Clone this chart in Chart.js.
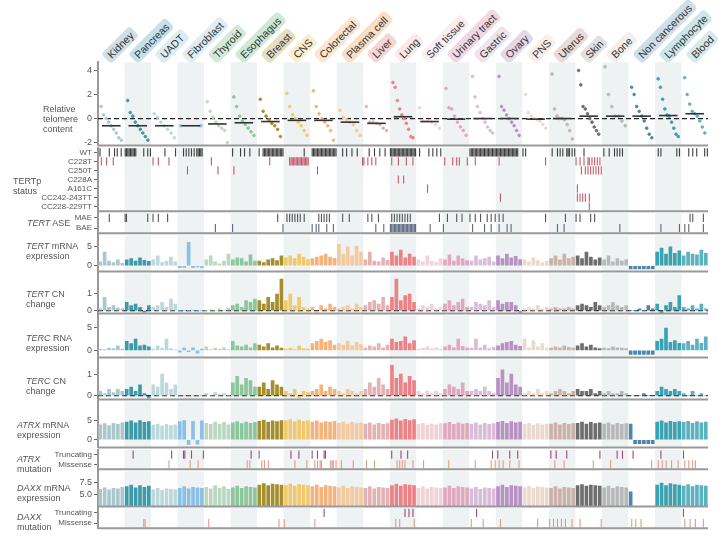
<!DOCTYPE html>
<html><head><meta charset="utf-8">
<script src="https://cdn.jsdelivr.net/npm/chart.js@4.4.1/dist/chart.umd.min.js"></script>
<style>
body{margin:0;background:#fff;font-family:"Liberation Sans",Arial,sans-serif;}
#wrap{position:relative;width:718px;height:540px;overflow:hidden;}
canvas{position:absolute;left:0;}
.lab{position:absolute;font-size:9px;color:#555;line-height:10px;}
.cat{position:absolute;font-size:10.5px;color:#333;white-space:nowrap;transform:rotate(-45deg);transform-origin:0 100%;padding:1px 4px;border-radius:4px;}
</style></head><body><div id="wrap"></div>
<script>
const groups = ["Kidney","Pancreas","UADT","Fibroblast","Thyroid","Esophagus","Breast","CNS","Colorectal","Plasma cell","Liver","Lung","Soft tissue","Urinary tract","Gastric","Ovary","PNS","Uterus","Skin","Bone","Non cancerous","Lymphocyte","Blood"];
const labelBg = ["#cddfe9","#c6dfe8","#dcedf1","#deedf7","#d4e9d6","#d0e9d4","#e6dfbf","#faeecf","#fce5d1","#fadfc6","#f5d5d5","#fbe9ea","#fbeef1","#f1d7e1","#eee3ee","#e3d7e9","#fbefe8","#e9dbd7","#e1e1e1","#f0f0f0","#cddfe9","#cbe7e9","#d6ebee"];
const barColor = ["#a9c7cc","#3d9aa8","#bcd8dc","#8cbfe6","#bcd7c0","#8cc69c","#a58e2e","#f0c96e","#f4b27c","#f3caa0","#e4b2b2","#ec8186","#f0d2d8","#e0a8bd","#d8bcd8","#b791c2","#ecd9ce","#c9b2aa","#6e6e6e","#b8b8b8","#4a86b0","#3aa2b0","#5cb2c0"];

const telomere = [
  [1.0,0.3,0,-0.3,-0.6,-0.9,-1.2,-1.6,-1.8],
  [1.5,0.5,0.2,-0.3,-0.6,-0.9,-1.2,-1.5,-1.8],
  [0.4,0.1,-0.3,-0.6,-0.9,-1.2,-1.6],
  [-0.6,-0.6],
  [1.4,0.6,0.1,-0.3,-0.6,-0.8,-1.0,-2.0],
  [1.8,1.0,0.2,-0.2,-0.5,-0.8,-1.1,-1.4],
  [1.6,0.6,0.2,-0.1,-0.4,-0.6,-0.9,-1.5],
  [2.1,1.0,0.3,0,-0.3,-0.6,-1.0,-1.4],
  [2.3,1.0,0.4,0,-0.3,-0.6,-1.0,-1.8],
  [0.7,0.1,-0.1,-0.3,-0.5,-1.0,-1.4],
  [1.0,-0.3,-0.3,-0.4,-0.5,-0.8,-1.0],
  [3.0,2.6,1.5,0.8,0.3,0,-0.4,-0.9,-1.5,-1.6],
  [0.9,-0.2,-0.2,-0.3,-0.5,-0.8],
  [2.5,0.9,0.8,0.2,-0.3,-0.7,-1.0,-1.4],
  [3.5,1.8,1.0,0.5,0,-0.3,-0.7,-1.0,-1.2],
  [3.5,1.0,0.7,0.3,0,-0.3,-0.6,-1.0,-1.4],
  [2.0,0.5,0.2,0,-0.1,-0.2,-0.5,-0.8],
  [3.7,0.8,0.2,0,0,-0.1,-0.5,-1.0,-1.7],
  [4.0,2.8,1.0,0.8,0.4,0,-0.3,-0.7,-1.0,-1.3],
  [4.3,2.0,1.0,0.2,0.2,-0.2,-0.6],
  [2.6,2.0,1.0,0.6,0.2,-0.2,-0.8,-1.3,-1.6],
  [3.3,2.6,1.6,0.8,0.3,0.2,-0.3,-0.8,-1.3,-1.5],
  [3.4,2.0,1.2,0.6,0.4,0.2,-0.2,-0.7,-1.2]
];

// mutation / status rows: slot numbers (0-19) per group
const tertpRows = ["WT","C228T","C250T","C228A","A161C","CC242-243TT","CC228-229TT"];
const tertWT = [[1,8,12,14,17],[0,1,2,3,4,5,6,7,8,14,17,19],[10,18],[4,6,8,10,12,14,15,16,17,18],[],[1,7,10,14],[1,4,5,6,7,8,9,10,11,12,13,14,15,16,17,18,19],[15],[1,2,3,4,5,6,7,8,9,10,11,12,13,14,15,16,17,18,19],[4,7,11,15],[4,8,12,16],[0,1,2,3,4,5,6,7,8,9,10,11,12,13,14,15,16,17,18,19],[2,9,12,15,18],[],[0,1,2,3,4,5,6,7,8,9,10,11,12,13,14,15,16,17,18,19],[0,1,2,3,4,5,6,7,8,9,10,11,12,13,14,15,16],[0,2],[2,6,8,10,13,14,15,17,19],[6],[1,5,9,11,13,15],[],[2,4,16,18],[5,8,11,17,19]];
const tertC228T = [[2,6,11],[],[1,5,13],[],[5],[],[9],[4,5,6,7,8,9,10,11,12,13,14,15,16,17,18],[],[19],[0,3,6,9],[1,6,12,17],[],[1,7,10,12,18],[4],[2],[17],[],[0,3,6,9,10,12,14,16,18],[],[],[],[]];
const tertC250T = [[],[],[],[7],[10],[2],[],[],[5],[],[],[],[],[],[],[],[],[],[4,7,9,11,13,15,17,19],[],[],[],[]];
const tertC228A = [[],[],[],[],[],[],[],[],[],[],[],[6,10],[],[],[],[],[],[],[],[],[],[],[]];
const tertA161C = [[],[],[],[],[],[],[],[],[],[],[],[],[8],[],[],[],[],[],[1],[],[],[],[]];
const tertCC242 = [[],[],[],[],[],[],[],[],[],[],[],[],[],[],[],[3],[],[],[1,3,5,7,10],[],[],[],[]];
const tertCC228 = [[],[],[],[],[],[],[],[],[],[],[],[],[],[],[],[],[],[],[10],[],[],[],[]];

const aseRows = ["MAE","BAE"];
const aseMAE = [[8],[0,1,17],[1,5,12],[],[],[],[15],[2,4,6,8,10,12,15],[6,8,10,12,14],[4,9],[3,6,11],[1,3,5,7,9,11,13,15],[17],[3,10,14],[0,4,8,13,16,19],[2,5],[17],[12],[0,3,11,14],[],[],[],[6,8,16]];
const aseBAE = [[],[],[],[],[8],[1],[19],[],[1,4,6,12,17],[],[9,15],[0,1,2,3,4,5,6,7,8,9,10,11,12,13,14,15,16,17,18,19],[10],[0],[2,11,16],[2,8,11],[],[6,11],[],[13],[],[4,18],[2,5,16]];

const mutRows = ["Truncating","Missense"];
const atrxTrunc = [[],[6],[15],[4,5,10,19],[],[15],[1],[5,11],[1,5,10,11],[],[],[1,8,13],[],[],[17],[1,10,16],[],[1,5,13],[18],[11,15],[3],[4],[1]];
const atrxMiss = [[],[],[13],[9,15],[],[12,14],[3,5,8],[8,17],[3,5,7,8,15,16,17,19],[3,12],[2,8],[5,7,9,11,17],[5],[4],[4,16,19],[2,5,10,17],[],[4,11],[13],[6],[17],[2,5,8,12,17],[2,5,8,10]];
const daxxTrunc = [[],[],[],[],[],[],[],[],[10],[],[],[11,14,17],[],[],[5],[],[],[],[],[],[],[],[1]];
const daxxMiss = [[],[14,15],[],[],[3],[],[16],[0],[3],[],[],[4,7,18],[],[],[1,10],[3],[11],[0,3,6,9,12,17],[3,19],[],[2,5,9],[],[2,6,10,16]];

// bar panels: 6 samples per group
const tertMrna = [1,3.5,1.2,0.8,1.5,0.6, 1.5,1.8,1.2,2,1.4,1.1, 1.5,2.5,0.8,1.2,2.2,1, -0.5,-0.4,6,-0.5,-0.3,-0.5, 1.5,2.5,1,0.5,1.2,3, 1.5,2,1.8,1,2.8,1.2, 1.2,0.8,1.5,1.8,1.3,2.5, 2,2.5,1.8,3,2.2,1.6, 1.8,2.2,2.5,3,2.2,1.9, 5.5,3,4.8,2.5,5,3.5, 1.5,3.5,1.2,1,2,1.4, 3.5,2.5,4,2,3,2.2, 1.5,1,2.5,1.2,0.8,1.8, 1.5,2.8,1.2,2.5,1.8,1.3, 1.2,2.5,1.5,1.8,2.2,1, 2.5,1.8,3,2,2.4,1.6, 1.5,1,2,1.3,0.8,1.2, 1.8,2.5,1.5,3,1.8,2.2, 2.5,1.8,3.5,2.2,1.5,2, 1.5,2.5,1,1.8,1.2,1.6, -0.8,-0.8,-0.8,-0.8,-0.8,-0.8, 3.5,4.5,3,4.8,3.2,3.8, 2.5,3.5,3,2.8,4,3.2];
const tertCn = [0.1,0.8,0.2,0.3,0.15,0.1, 0.5,0.3,0.4,0.2,-0.1,0.3, 0.2,0.3,0.5,0.2,0.7,0.4, 0,0,0,0,0,0, 0,0.05,0,0.1,0,0.15, 0.3,0.4,0.2,0.6,0.5,0.7, 0.6,0.4,0.8,0.5,1.0,1.9, 0.6,1.0,0.3,0.8,0.2,0.1, 0.2,-0.1,0.3,0.1,0.4,0.2, 0.1,0.2,0.3,0.1,0.4,0.2, 0.3,0.5,0.6,0.4,0.8,0.3, 0.8,1.9,0.6,0.9,1.0,0.5, 0.1,0.3,0.2,0.4,0.1,0.2, 0.4,0.6,0.3,0.5,0.7,0.2, 0.2,0.5,0.4,0.3,0.6,0.2, 0.6,0.4,0.5,0.5,0.3,-0.2, 0.1,0.2,0.1,0.3,0.1,0.2, 0.1,0.2,0.1,0.1,0.2,0.1, 0.3,0.4,0.3,0.2,0.5,0.3, 0.2,0.3,0.5,0.3,0.2,0.3, 0,0,0.1,0,0.3,0.1, 0.4,-0.2,0.3,0.5,0.2,0.9, 0.2,0.1,0.3,0.1,0.4,0.1];
const tercRna = [0.3,0.2,0.5,0.4,1,0.3, 2,1.5,2.5,1,1.2,0.8, 0.3,1,0.5,2.5,0.4,0.2, -0.4,0.5,-0.3,0.6,-0.6,0.3, 0.8,0.2,0.5,0.3,0.6,0.2, 2,1,0.8,1.2,0.6,1.5, 1.2,0.8,1.5,0.6,1,0.5, 0.3,0.5,0.2,1,0.4,0.3, 1.5,2,2.5,1.8,2.2,1.2, 1.5,1.2,2,1,1.8,1.3, 0.5,1,0.8,1.5,0.6,1.2, 2.5,1.8,2,3,1.5,2.2, 0.3,0.5,0.8,0.4,0.6,0.3, 0.8,1.2,0.6,2.5,0.9,0.5, 0.5,2.5,0.6,1.2,0.4,0.7, 1,1.5,1.8,2,1.2,0.9, 2.5,0.6,2.2,0.8,1.5,0.5, 0.5,0.8,0.6,1,0.7,0.5, 1,1.5,0.8,1.2,0.6,0.4, 0.5,0.4,0.8,0.6,0.5,0.4, -0.9,-0.9,-0.9,-0.9,-0.9,-0.9, 2,2.5,5,1.8,2.2,1.6, 1.5,2,1.2,2.5,1.6,3];
const tercCn = [0.2,0.1,0.3,0.15,0.3,0.2, 0.3,0.4,0.2,0.5,0.1,-0.1, 0.5,0.4,1.0,0.6,0.3,0.5, 0,0,0,0,0,0, 0.1,0,0.15,0.05,0.1,0, 0.6,0.9,0.5,0.8,0.7,0.4, 0.4,0.6,0.3,0.7,0.5,0.4, 0.2,0.1,0.3,-0.1,0.2,0.15, 0.2,0.3,0.5,0.2,0.4,0.3, 0.2,0.1,0.3,0.2,0.1,0.2, 0.3,0.6,0.4,0.8,0.5,0.3, 1.4,0.8,1.0,0.6,0.9,0.7, 0.2,0.1,0.2,0.1,0.2,0.1, 0.3,0.5,0.4,0.3,0.6,0.2, 0.2,0.3,0.2,0.4,0.2,0.1, 0.8,1.2,0.6,1.0,0.5,0.4, 0.1,0.2,0.1,0.3,0.1,0.2, 0.1,0.2,0.3,0.2,0.1,0.2, 0.3,0.2,0.2,0.3,0.1,0.2, 0.1,0.2,0.1,0.1,0.2,0.1, 0,0,0,0.1,0,0, 0.2,0.4,0.3,0.2,0.3,0.2, 0.1,0,0.2,0,0.1,0];
const atrxMrna = [3.8,4.1,3.6,4.2,3.9,4.3, 4.5,4.8,4.3,4.9,4.4,4.6, 3.7,4.0,3.5,3.9,3.6,3.8, 4.6,4.9,-1.2,4.7,-1.1,4.8, 4.2,3.9,4.5,4.0,4.4,3.8, 4.3,4.6,4.1,4.5,4.2,4.4, 4.7,5.0,4.5,4.8,4.6,4.9, 4.8,5.1,4.6,5.0,4.7,4.9, 4.5,4.8,4.3,4.6,4.4,4.7, 4.2,4.5,4.0,4.4,4.1,4.3, 4.0,4.3,3.8,4.2,3.9,4.1, 5.0,5.3,4.8,5.2,4.9,5.1, 3.9,4.2,3.7,4.0,3.8,4.1, 4.1,4.4,3.9,4.3,4.0,4.2, 4.0,4.3,3.8,4.2,3.9,4.1, 4.4,4.7,4.2,4.6,4.3,4.5, 3.9,4.2,3.7,4.1,3.8,4.0, 4.0,4.3,3.8,4.2,3.9,4.1, 4.2,4.5,4.0,4.4,4.1,4.3, 4.0,4.3,3.8,4.2,3.9,4.1, 4.0,-1,-1,-1,-1,-1, 4.5,4.8,4.3,4.7,4.4,4.6, 4.4,4.7,4.2,4.6,4.3,4.5];
const daxxMrna = [6.1,6.4,6.0,6.3,6.2,6.5, 6.6,6.9,6.4,6.8,6.5,6.7, 6.0,6.3,5.9,6.2,6.1,6.0, 6.3,6.6,6.2,6.5,6.4,6.3, 6.5,6.2,6.8,6.3,6.6,6.1, 6.4,6.7,6.3,6.6,6.5,6.4, 6.9,7.2,6.8,7.1,7.0,6.9, 6.8,7.1,6.7,7.0,6.9,6.8, 6.6,6.9,6.5,6.8,6.7,6.6, 6.4,6.7,6.3,6.6,6.5,6.4, 6.3,6.6,6.2,6.5,6.4,6.3, 6.8,7.1,6.7,7.0,6.9,6.8, 6.3,6.6,6.2,6.5,6.4,6.3, 6.4,6.7,6.3,6.6,6.5,6.4, 6.2,6.5,6.1,6.4,6.3,6.2, 6.6,6.9,6.5,6.8,6.7,6.6, 6.4,6.7,6.3,6.6,6.5,6.4, 6.3,6.6,6.2,6.5,6.4,6.3, 6.8,7.0,6.7,6.9,6.8,6.7, 6.4,6.7,6.3,6.6,6.5,6.4, 5.6,0,0,0,0,0, 6.9,7.3,6.8,7.2,7.0,6.9, 6.7,7.0,6.6,6.9,6.8,6.7];

const NG = groups.length, PER = 6, SLOTS = 20;
const wrap = document.getElementById("wrap");

const shade = {
  id: "shade",
  beforeDatasetsDraw(c, a, o) {
    const {ctx, chartArea: ca, scales: {x, y}} = c;
    ctx.save();
    ctx.fillStyle = "#eef2f2";
    for (let g = 1; g < NG; g += 2) {
      const l = x.getPixelForValue(g), r = x.getPixelForValue(g + 1);
      ctx.fillRect(l, ca.top, r - l, ca.bottom - ca.top);
    }
    if (o.zero) {
      ctx.strokeStyle = "#222"; ctx.lineWidth = 1.2; ctx.setLineDash([5, 3]);
      const py = y.getPixelForValue(0);
      ctx.beginPath(); ctx.moveTo(ca.left, py); ctx.lineTo(ca.right, py); ctx.stroke();
    }
    ctx.restore();
  },
  afterDraw(c, a, o) {
    const {ctx, chartArea: ca, scales: {x, y}} = c;
    ctx.save();
    if (o.medians) {
      ctx.strokeStyle = "#333"; ctx.lineWidth = 1.6;
      o.medians.forEach((m, g) => {
        const py = y.getPixelForValue(m);
        ctx.beginPath(); ctx.moveTo(x.getPixelForValue(g + 0.15), py); ctx.lineTo(x.getPixelForValue(g + 0.85), py); ctx.stroke();
      });
    }
    ctx.strokeStyle = "#999"; ctx.lineWidth = 2;
    ctx.beginPath(); ctx.moveTo(ca.left, ca.bottom); ctx.lineTo(ca.right, ca.bottom); ctx.stroke();
    ctx.restore();
  }
};

function newCanvas(top, H) {
  const cv = document.createElement("canvas");
  cv.width = 718; cv.height = H;
  cv.style.width = "718px"; cv.style.height = H + "px"; cv.style.top = top + "px";
  wrap.appendChild(cv);
  return cv;
}

// place a chart so that its plot area covers rows top..top+h of the page:
// a trial chart measures the space the axis takes, then the real one is drawn
function mount(top, h, makeCfg) {
  const probe = newCanvas(top, h + 40);
  const t = new Chart(probe, makeCfg());
  const inTop = t.chartArea.top, inBot = t.height - t.chartArea.bottom;
  t.destroy(); probe.remove();
  const cv = newCanvas(Math.round(top - inTop), Math.round(h + inTop + inBot));
  return new Chart(cv, makeCfg());
}

function yAxis(extra, fs) {
  return Object.assign({
    afterFit: s => { s.width = 98; },
    border: {display: true, color: "#999", width: 2},
    grid: {drawOnChartArea: false, tickLength: 4, color: "#666"},
    ticks: {color: "#555", font: {size: fs || 9}, padding: 2, autoSkip: false}
  }, extra);
}

function baseOpts(y, plug) {
  return {
    responsive: false, animation: false, devicePixelRatio: 1,
    layout: {padding: {right: 10, top: 0, bottom: 0}},
    plugins: {legend: {display: false}, tooltip: {enabled: false}, shade: plug || {}},
    scales: {x: {type: "linear", min: 0, max: NG, offset: false, display: false}, y: y}
  };
}

function barPanel(top, h, vals, min, max, ticks, dec, zero) {
  const data = vals.map((v, i) => ({x: Math.floor(i / PER) + (i % PER + 0.5) / PER, y: v}));
  const colors = vals.map((v, i) => barColor[Math.floor(i / PER)]);
  mount(top, h, () => ({
    type: "bar",
    data: {datasets: [{data, backgroundColor: colors, barThickness: 3}]},
    options: baseOpts(yAxis({min, max, afterBuildTicks: s => { s.ticks = ticks.map(v => ({value: v})); },
      ticks: {color: "#555", font: {size: 9}, padding: 2, callback: v => v.toFixed(dec)}}), {zero}),
    plugins: [shade]
  }));
}

function tickPanel(top, h, rows, series, colors) {
  const datasets = () => series.map((s, r) => ({
    data: s.flatMap((slots, g) => slots.map(k => ({x: g + (k + 0.5) / SLOTS, y: rows[r]}))),
    pointStyle: "line", rotation: 90, radius: Math.min(4.2, h / rows.length / 2 - 0.4),
    borderColor: colors[r], borderWidth: 1.1
  }));
  mount(top, h, () => ({
    type: "scatter",
    data: {datasets: datasets()},
    options: baseOpts(yAxis({type: "category", labels: rows, offset: true}, 8)),
    plugins: [shade]
  }));
}

// top labels
groups.forEach((g, i) => {
  const d = document.createElement("div");
  d.className = "cat"; d.textContent = g;
  d.style.background = labelBg[i];
  d.style.left = (98 + (i + 0.5) * 610 / NG) + "px";
  d.style.top = "50px";
  wrap.appendChild(d);
});

// telomere panel
const telData = telomere.flatMap((arr, g) => arr.map((v, i) => ({x: g + 0.12 + 0.76 * (arr.length > 1 ? i / (arr.length - 1) : 0.5), y: v})));
const telColors = telomere.flatMap((arr, g) => arr.map(() => barColor[g]));
const medians = telomere.map(a => { const s = [...a].sort((p, q) => p - q); const m = s.length >> 1; return s.length % 2 ? s[m] : (s[m - 1] + s[m]) / 2; });
mount(62, 83, () => ({
  type: "scatter",
  data: {datasets: [{data: telData, backgroundColor: telColors, borderColor: telColors, radius: 1.3}]},
  options: baseOpts(yAxis({min: -2.25, max: 4.67, afterBuildTicks: s => { s.ticks = [-2, 0, 2, 4].map(v => ({value: v})); }}), {zero: true, medians}),
  plugins: [shade]
}));

const red = "#c4586a";
tickPanel(148, 63, tertpRows, [tertWT, tertC228T, tertC250T, tertC228A, tertA161C, tertCC242, tertCC228], ["#3c3c3c", red, red, red, red, red, red]);
tickPanel(213, 20, aseRows, [aseMAE, aseBAE], ["#555", "#5a6680"]);
barPanel(235, 36, tertMrna, -1.5, 7.75, [0, 5], 0);
barPanel(273, 40, tertCn, -0.18, 2.24, [0, 1], 0, true);
barPanel(315, 42, tercRna, -1.6, 7.8, [0, 5], 0);
barPanel(359, 40, tercCn, -0.18, 1.68, [0, 1], 0, true);
barPanel(401, 46, atrxMrna, -2, 9.75, [0, 5], 0);
tickPanel(450, 19, mutRows, [atrxTrunc, atrxMiss], ["#9a4c72", "#e29a88"]);
barPanel(471, 35, daxxMrna, 2.7, 9.6, [5.0, 7.5], 1);
tickPanel(508, 20, mutRows, [daxxTrunc, daxxMiss], ["#9a4c72", "#e29a88"]);

// left labels
const labels = [
  [43, 104, "Relative<br>telomere<br>content"],
  [13, 176, "TERTp<br>status"],
  [27, 218, "<i>TERT</i> ASE"],
  [26, 241, "<i>TERT</i> mRNA<br>expression"],
  [26, 289, "<i>TERT</i> CN<br>change"],
  [26, 333, "<i>TERC</i> RNA<br>expression"],
  [26, 376, "<i>TERC</i> CN<br>change"],
  [17, 420, "<i>ATRX</i> mRNA<br>expression"],
  [17, 454, "<i>ATRX</i><br>mutation"],
  [17, 483, "<i>DAXX</i> mRNA<br>expression"],
  [17, 512, "<i>DAXX</i><br>mutation"]
];
labels.forEach(([x, y, t]) => {
  const d = document.createElement("div");
  d.className = "lab"; d.style.left = x + "px"; d.style.top = y + "px"; d.innerHTML = t;
  wrap.appendChild(d);
});
</script></body></html>
